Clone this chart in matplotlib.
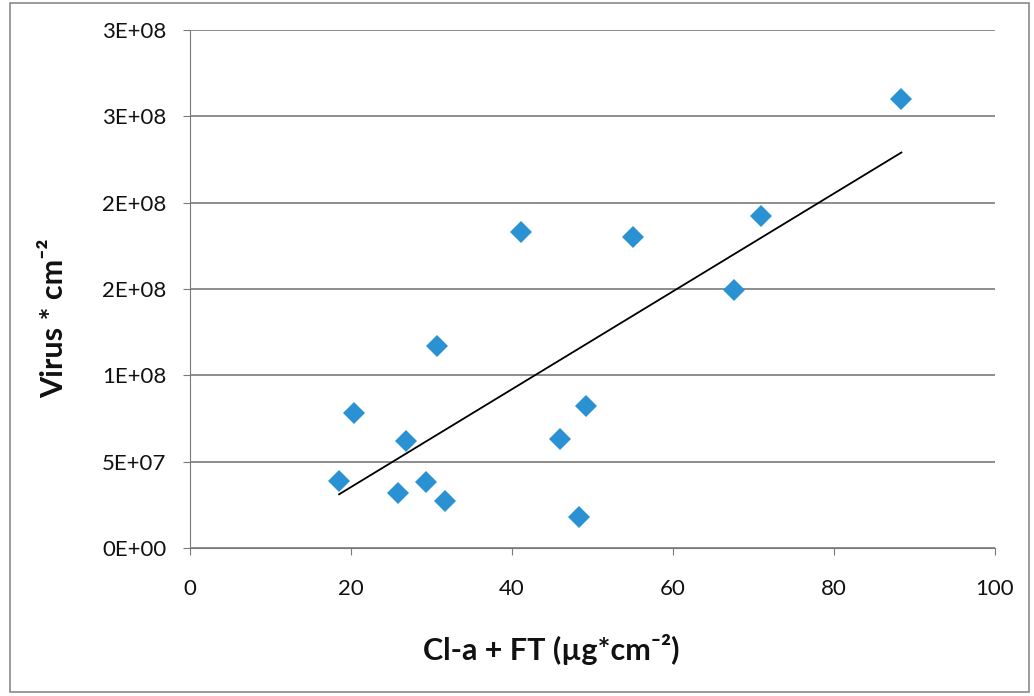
import matplotlib.pyplot as plt
import numpy as np
from matplotlib.patches import Rectangle

plt.rcParams['font.family'] = ['Lato', 'DejaVu Sans']

# datos
cl_ft = [18.5, 20.4, 25.8, 26.8, 29.3, 30.7, 31.7, 41.1, 46.0, 48.3, 49.2, 55.0, 67.6, 70.9, 88.4]
virus = [3.9e7, 7.8e7, 3.2e7, 6.2e7, 3.8e7, 1.17e8, 2.7e7, 1.83e8, 6.3e7, 1.8e7, 8.2e7, 1.80e8, 1.495e8, 1.92e8, 2.6e8]
yticks = [0, 5e7, 1e8, 1.5e8, 2e8, 2.5e8, 3e8]
ylabels = ['0E+00', '5E+07', '1E+08', '2E+08', '2E+08', '3E+08', '3E+08']
xticks = [0, 20, 40, 60, 80, 100]

fig = plt.figure(figsize=(10.34, 6.96), dpi=100)
ax = fig.add_axes([0.184, 0.2126, 0.778, 0.7444])

# linea de tendencia (ajuste lineal)
m, b = np.polyfit(cl_ft, virus, 1)
xl = np.array([min(cl_ft), max(cl_ft)])
ax.plot(xl, m*xl + b, color='k', lw=1.3, zorder=3)

ax.plot(cl_ft, virus, 'D', color='#2a92d2', ms=11, markeredgewidth=0, zorder=4)

ax.set_xlim(0, 100)
ax.set_ylim(0, 3e8)
ax.set_xticks(xticks)
ax.set_yticks(yticks)
ax.set_yticklabels(ylabels)
ax.grid(axis='y', color='#7a7a7a', lw=1.2)
ax.set_axisbelow(True)
for s in ['top', 'right']:
    ax.spines[s].set_visible(False)
ax.spines['left'].set_color('#7a7a7a')
ax.spines['bottom'].set_color('#7a7a7a')
ax.tick_params(axis='both', colors='#7a7a7a', labelcolor='#111111', labelsize=16, length=5)
ax.tick_params(axis='x', pad=17)
ax.tick_params(axis='y', pad=12)

ax.set_xlabel('Cl-a + FT (µg*cm⁻²)', fontsize=22, fontweight='bold', color='#111111')
ax.set_ylabel('Virus * cm⁻²', fontsize=22, fontweight='bold', color='#111111')
ax.xaxis.set_label_coords(0.449, -0.165)
ax.yaxis.set_label_coords(-0.152, 0.444)

# borde exterior
fig.patches.append(Rectangle((0.01, 0.006), 0.985, 0.99, transform=fig.transFigure,
                             fill=False, edgecolor='#8a8a8a', lw=1.2))

fig.savefig('out.png', dpi=100)
